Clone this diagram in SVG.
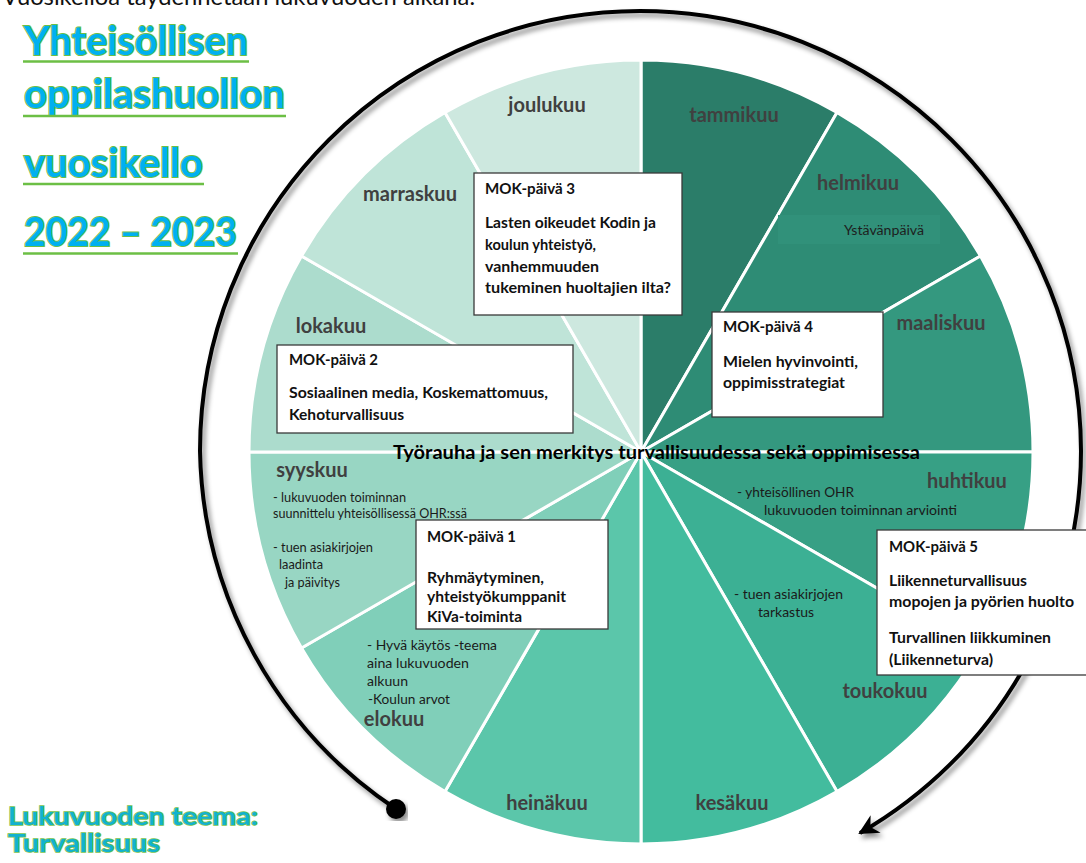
<svg xmlns="http://www.w3.org/2000/svg" width="1086" height="863" viewBox="0 0 1086 863">
<defs>
<style>
text{font-family:Lato,"Liberation Sans",sans-serif;}
.w{stroke:#fff;stroke-width:3;stroke-linejoin:round;}
.m{font-size:20px;font-weight:bold;fill:#404040;text-anchor:middle;}
.n{font-size:13.5px;fill:#1a1a1a;}
.bx{fill:#fff;stroke:#3a3a3a;stroke-width:1.3;}
.bt{font-size:15.5px;font-weight:bold;fill:#111;}
.ti{font-size:40px;font-weight:bold;fill:#00b0f0;stroke:#6cbf45;stroke-width:2;paint-order:stroke;}
.ul{stroke:#6cbf45;stroke-width:2.5;}
.th{font-size:25px;font-weight:bold;fill:#12b2cf;stroke:#78c24c;stroke-width:1.6;paint-order:stroke;}
</style>
<filter id="sh" x="-5%" y="-5%" width="112%" height="112%">
<feDropShadow dx="3" dy="4" stdDeviation="2.5" flood-color="#000" flood-opacity="0.45"/>
</filter>
<marker id="ah" viewBox="-20 -12 24 24" refX="0" refY="0" markerWidth="24" markerHeight="24" markerUnits="userSpaceOnUse" orient="auto">
<path d="M2,0 L-18,-10 L-12,0 L-18,10 Z" fill="#000"/>
</marker>
</defs>
<rect width="1086" height="863" fill="#fff"/>

<text x="2" y="5" font-size="24" fill="#111" textLength="473" lengthAdjust="spacingAndGlyphs">Vuosikelloa täydennetään lukuvuoden aikana.</text>

<g id="wheel">
<path id="tammikuu-w" class="w" fill="#2b7d69" d="M641,452 L641,60 A392,392 0 0 1 837,112.5 Z"/>
<path id="helmikuu-w" class="w" fill="#2e8c75" d="M641,452 L837,112.5 A392,392 0 0 1 980.5,256 Z"/>
<path id="maaliskuu-w" class="w" fill="#34987f" d="M641,452 L980.5,256 A392,392 0 0 1 1033,452 Z"/>
<path id="huhtikuu-w" class="w" fill="#37a085" d="M641,452 L1033,452 A392,392 0 0 1 980.5,648 Z"/>
<path id="toukokuu-w" class="w" fill="#3cb094" d="M641,452 L980.5,648 A392,392 0 0 1 837,791.5 Z"/>
<path id="kesakuu-w" class="w" fill="#43bc9e" d="M641,452 L837,791.5 A392,392 0 0 1 641,844 Z"/>
<path id="heinakuu-w" class="w" fill="#5bc6aa" d="M641,452 L641,844 A392,392 0 0 1 445,791.5 Z"/>
<path id="elokuu-w" class="w" fill="#80cfb9" d="M641,452 L445,791.5 A392,392 0 0 1 301.5,648 Z"/>
<path id="syyskuu-w" class="w" fill="#98d6c3" d="M641,452 L301.5,648 A392,392 0 0 1 249,452 Z"/>
<path id="lokakuu-w" class="w" fill="#acdccd" d="M641,452 L249,452 A392,392 0 0 1 301.5,256 Z"/>
<path id="marraskuu-w" class="w" fill="#bfe4d8" d="M641,452 L301.5,256 A392,392 0 0 1 445,112.5 Z"/>
<path id="joulukuu-w" class="w" fill="#cde8df" d="M641,452 L445,112.5 A392,392 0 0 1 641,60 Z"/>
</g>

<g id="ystavanpaiva">
<rect x="778" y="215" width="162" height="29" fill="#31917a"/>
<text x="844" y="235" font-size="12.5" fill="#1e1e1e" textLength="80" lengthAdjust="spacingAndGlyphs">Ystävänpäivä</text>
</g>

<g id="months">
<text class="m" x="547" y="112">joulukuu</text>
<text class="m" x="734" y="122">tammikuu</text>
<text class="m" x="858" y="190">helmikuu</text>
<text class="m" x="941" y="330">maaliskuu</text>
<text class="m" x="967" y="488">huhtikuu</text>
<text class="m" x="885" y="698">toukokuu</text>
<text class="m" x="732" y="810">kesäkuu</text>
<text class="m" x="547" y="810">heinäkuu</text>
<text class="m" x="394" y="726">elokuu</text>
<text class="m" x="312" y="477">syyskuu</text>
<text class="m" x="331" y="333">lokakuu</text>
<text class="m" x="410" y="201">marraskuu</text>
</g>

<g id="notes">
<text class="n" x="273" y="502" textLength="133" lengthAdjust="spacingAndGlyphs">- lukuvuoden toiminnan</text>
<text class="n" x="273" y="518" textLength="194" lengthAdjust="spacingAndGlyphs">suunnittelu yhteisöllisessä OHR:ssä</text>
<text class="n" x="273" y="552" textLength="100" lengthAdjust="spacingAndGlyphs">- tuen asiakirjojen</text>
<text class="n" x="279" y="569" textLength="44" lengthAdjust="spacingAndGlyphs">laadinta</text>
<text class="n" x="285" y="587" textLength="55" lengthAdjust="spacingAndGlyphs">ja päivitys</text>
<text class="n" x="367" y="650" textLength="130" lengthAdjust="spacingAndGlyphs">- Hyvä käytös -teema</text>
<text class="n" x="367" y="668" textLength="102" lengthAdjust="spacingAndGlyphs">aina lukuvuoden</text>
<text class="n" x="367" y="686" textLength="41" lengthAdjust="spacingAndGlyphs">alkuun</text>
<text class="n" x="368" y="704" textLength="82" lengthAdjust="spacingAndGlyphs">-Koulun arvot</text>
<text class="n" x="737" y="497" textLength="117" lengthAdjust="spacingAndGlyphs">- yhteisöllinen OHR</text>
<text class="n" x="764" y="515" textLength="193" lengthAdjust="spacingAndGlyphs">lukuvuoden toiminnan arviointi</text>
<text class="n" x="734" y="599" textLength="109" lengthAdjust="spacingAndGlyphs">- tuen asiakirjojen</text>
<text class="n" x="758" y="617" textLength="56" lengthAdjust="spacingAndGlyphs">tarkastus</text>
</g>

<g id="center-theme">
<text x="393" y="459" font-size="19.5" font-weight="bold" fill="#000" textLength="527" lengthAdjust="spacingAndGlyphs">Työrauha ja sen merkitys turvallisuudessa sekä oppimisessa</text>
</g>

<g id="mok3">
<rect class="bx" x="474" y="173" width="208" height="142"/>
<text class="bt" x="485" y="194" textLength="90" lengthAdjust="spacingAndGlyphs">MOK-päivä 3</text>
<text class="bt" x="485" y="228" textLength="171" lengthAdjust="spacingAndGlyphs">Lasten oikeudet Kodin ja</text>
<text class="bt" x="485" y="250" textLength="111" lengthAdjust="spacingAndGlyphs">koulun yhteistyö,</text>
<text class="bt" x="485" y="272" textLength="114" lengthAdjust="spacingAndGlyphs">vanhemmuuden</text>
<text class="bt" x="485" y="293" textLength="186" lengthAdjust="spacingAndGlyphs">tukeminen huoltajien ilta?</text>
</g>
<g id="mok4">
<rect class="bx" x="712" y="312" width="171" height="105"/>
<text class="bt" x="723" y="332" textLength="90" lengthAdjust="spacingAndGlyphs">MOK-päivä 4</text>
<text class="bt" x="723" y="367" textLength="135" lengthAdjust="spacingAndGlyphs">Mielen hyvinvointi,</text>
<text class="bt" x="723" y="388" textLength="122" lengthAdjust="spacingAndGlyphs">oppimisstrategiat</text>
</g>
<g id="mok2">
<rect class="bx" x="277" y="345" width="296" height="88"/>
<text class="bt" x="289" y="365" textLength="89" lengthAdjust="spacingAndGlyphs">MOK-päivä 2</text>
<text class="bt" x="289" y="398" textLength="259" lengthAdjust="spacingAndGlyphs">Sosiaalinen media, Koskemattomuus,</text>
<text class="bt" x="289" y="420" textLength="115" lengthAdjust="spacingAndGlyphs">Kehoturvallisuus</text>
</g>
<g id="mok1">
<rect class="bx" x="416" y="520" width="192" height="109"/>
<text class="bt" x="427" y="542" textLength="89" lengthAdjust="spacingAndGlyphs">MOK-päivä 1</text>
<text class="bt" x="427" y="583" textLength="117" lengthAdjust="spacingAndGlyphs">Ryhmäytyminen,</text>
<text class="bt" x="427" y="602" textLength="139" lengthAdjust="spacingAndGlyphs">yhteistyökumppanit</text>
<text class="bt" x="427" y="622" textLength="95" lengthAdjust="spacingAndGlyphs">KiVa-toiminta</text>
</g>

<g id="connectors">
<path d="M396,809 A440,440 0 0 1 200,451 A440,440 0 0 1 640,11 A441,441 0 0 1 1081,451 A441,441 0 0 1 860,833" fill="none" stroke="#000" stroke-width="4" filter="url(#sh)" marker-end="url(#ah)"/>
<circle cx="396" cy="809" r="10" fill="#000" filter="url(#sh)"/>
</g>

<g id="mok5">
<rect class="bx" x="877" y="530" width="214" height="145"/>
<text class="bt" x="889" y="552" textLength="89" lengthAdjust="spacingAndGlyphs">MOK-päivä 5</text>
<text class="bt" x="889" y="586" textLength="138" lengthAdjust="spacingAndGlyphs">Liikenneturvallisuus</text>
<text class="bt" x="889" y="607" textLength="185" lengthAdjust="spacingAndGlyphs">mopojen ja pyörien huolto</text>
<text class="bt" x="889" y="643" textLength="162" lengthAdjust="spacingAndGlyphs">Turvallinen liikkuminen</text>
<text class="bt" x="889" y="665" textLength="104" lengthAdjust="spacingAndGlyphs">(Liikenneturva)</text>
</g>

<g id="title">
<text class="ti" x="24" y="55" textLength="224" lengthAdjust="spacingAndGlyphs">Yhteisöllisen</text>
<line class="ul" x1="23" y1="61.5" x2="249" y2="61.5"/>
<text class="ti" x="24" y="108" textLength="261" lengthAdjust="spacingAndGlyphs">oppilashuollon</text>
<line class="ul" x1="23" y1="116" x2="286" y2="116"/>
<text class="ti" x="24" y="177" textLength="179" lengthAdjust="spacingAndGlyphs">vuosikello</text>
<line class="ul" x1="23" y1="184" x2="204" y2="184"/>
<text class="ti" x="24" y="246" textLength="213" lengthAdjust="spacingAndGlyphs">2022 – 2023</text>
<line class="ul" x1="23" y1="253.5" x2="238" y2="253.5"/>
</g>

<g id="theme">
<text class="th" x="8" y="825" textLength="250" lengthAdjust="spacingAndGlyphs">Lukuvuoden teema:</text>
<text class="th" x="8" y="852" textLength="152" lengthAdjust="spacingAndGlyphs">Turvallisuus</text>
</g>
</svg>
